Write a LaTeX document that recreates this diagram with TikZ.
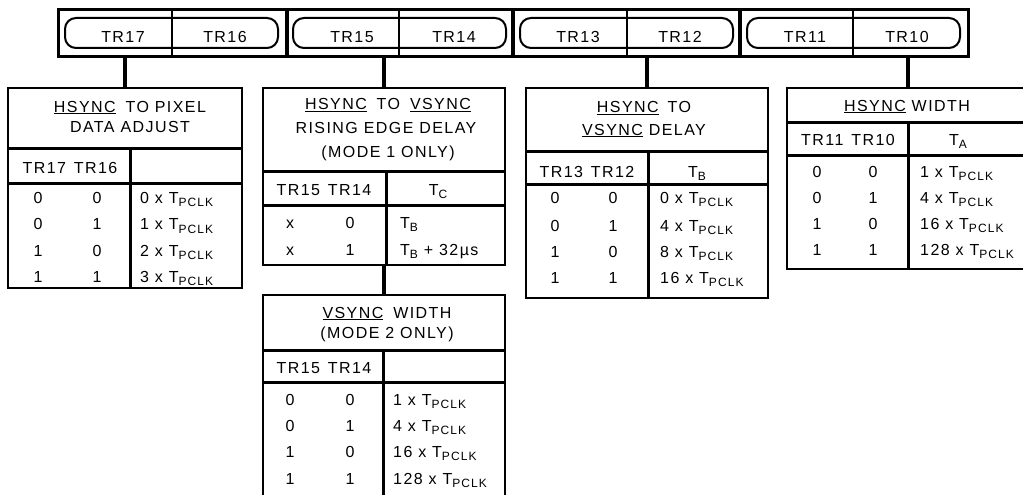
\documentclass[tikz,border=0pt]{standalone}
\usepackage{fontspec}
\setmainfont{Liberation Sans}[LetterSpace=9]
\newcommand{\tsub}[1]{T\raisebox{-3.5pt}{\fontsize{12}{12}\selectfont #1}}
\newcommand{\pclk}{\tsub{PCLK}}
\newcommand{\uln}[1]{\setbox0\hbox{#1}\rlap{\rule[-2pt]{\wd0}{1.3pt}}\box0\relax}
\tikzset{
  frame/.style={draw, line width=2pt, inner sep=0pt},
  rule/.style={line width=3pt},
  thinrule/.style={line width=2.5pt},
  stem/.style={line width=3.5pt},
  txt/.style={font=\fontsize{16}{16}\selectfont, inner sep=0pt, anchor=base},
  lft/.style={txt, anchor=base west},
}
\begin{document}
\begin{tikzpicture}[x=1pt,y=-1pt]
  \useasboundingbox (0,0) rectangle (1023,495);
  \clip (0,0) rectangle (1023,495);
  % register bar
  \node[frame, line width=3pt, minimum width=910pt, minimum height=47pt] (bar) at (513,33.5) {};
  \foreach \x in {287,513,740}{\draw[stem] (\x,10) -- (\x,57);}
  \foreach \x in {172,399,627,853}{\draw[thinrule] (\x,10) -- (\x,57);}
  \foreach \x in {65,293,520,747}{\draw[line width=2pt, rounded corners=11pt] (\x,18) rectangle ++(213,30);}
  \foreach \x/\a/\b in {58/17/16,287/15/14,513/13/12,740/11/10}{
    \node[txt] (tr\a) at ({\x+65},42.5) {TR\a};
    \node[txt] (tr\b) at ({\x+167},42.5) {TR\b};
  }
  % table frames
  \node[frame, minimum width=234pt, minimum height=200pt] (adj) at (125,188) {};
  \node[frame, minimum width=242pt, minimum height=177pt] (rise) at (384,176.5) {};
  \node[frame, minimum width=242pt, minimum height=225pt] (vw) at (384,407.5) {};
  \node[frame, minimum width=242pt, minimum height=210pt] (dly) at (647,193) {};
  \node[frame, minimum width=242pt, minimum height=181pt] (hw) at (908,178.5) {};
  % stems
  \foreach \b in {adj,rise,dly,hw}{\draw[stem] (\b.north) -- (\b.north |- bar.south);}
  \draw[stem] (rise.south) -- (vw.north);
  % HSYNC to pixel data adjust
  \draw[rule] (8,148) -- (242,148);
  \draw[rule] (8,183) -- (242,183);
  \draw[rule] (130,148) -- (130,288);
  \node[txt] (adjt1) at (130,112) {\uln{HSYNC}\hspace{4pt} TO PIXEL};
  \node[txt] (adjt2) at (130,132.5) {DATA ADJUST};
  \node[txt] (adjh) at (70,173) {TR17\hspace{2pt} TR16};
  \foreach \y/\a/\b/\v in {203/0/0/0,229.5/0/1/1,256/1/0/2,282/1/1/3}{
    \node[txt] at (38,\y) {\a};
    \node[txt] at (97,\y) {\b};
    \node[lft] at (140,\y) {\v\ x \pclk};
  }
  % HSYNC to VSYNC rising edge delay
  \draw[rule] (263,171) -- (505,171);
  \draw[rule] (263,205) -- (505,205);
  \draw[rule] (386,171) -- (386,265);
  \node[txt] (riset1) at (388,110) {\uln{HSYNC}\hspace{4pt} TO\hspace{4pt} \uln{VSYNC}};
  \node[txt] (riset2) at (386,133.5) {RISING EDGE DELAY};
  \node[txt] (riset3) at (388,157) {(MODE 1 ONLY)};
  \node[txt] (riseh) at (324,195) {TR15\hspace{2pt} TR14};
  \node[txt] (risetc) at (438,195) {\tsub{C}};
  \node[txt] at (290,228) {x};
  \node[txt] at (350,228) {0};
  \node[lft] at (400,228) {\tsub{B}};
  \node[txt] at (290,255) {x};
  \node[txt] at (350,255) {1};
  \node[lft] at (400,255) {\tsub{B} + 32µs};
  % VSYNC width
  \draw[rule] (263,350) -- (505,350);
  \draw[rule] (263,382) -- (505,382);
  \draw[rule] (383,350) -- (383,520);
  \node[txt] (vwt1) at (387,318) {\uln{VSYNC}\hspace{4pt} WIDTH};
  \node[txt] (vwt2) at (387,338) {(MODE 2 ONLY)};
  \node[txt] (vwh) at (324,373) {TR15\hspace{2pt} TR14};
  \foreach \y/\a/\b/\v in {405/0/0/1,431/0/1/4,457/1/0/16,484/1/1/128}{
    \node[txt] at (290,\y) {\a};
    \node[txt] at (350,\y) {\b};
    \node[lft] at (393,\y) {\v\ x \pclk};
  }
  % HSYNC to VSYNC delay
  \draw[rule] (526,151) -- (768,151);
  \draw[rule] (526,184) -- (768,184);
  \draw[rule] (648,151) -- (648,298);
  \node[txt] (dlyt1) at (644,113) {\uln{HSYNC}\hspace{3pt} TO};
  \node[txt] (dlyt2) at (644,135) {\uln{VSYNC} DELAY};
  \node[txt] (dlyh) at (587,177) {TR13\hspace{2pt} TR12};
  \node[txt] (dlytb) at (697,177) {\tsub{B}};
  \foreach \y/\a/\b/\v in {203/0/0/0,231/0/1/4,257/1/0/8,283/1/1/16}{
    \node[txt] at (555,\y) {\a};
    \node[txt] at (613,\y) {\b};
    \node[lft] at (660,\y) {\v\ x \pclk};
  }
  % HSYNC width
  \draw[rule] (787,122) -- (1029,122);
  \draw[rule] (787,155) -- (1029,155);
  \draw[rule] (908,122) -- (908,269);
  \node[txt] (hwt) at (907,111) {\uln{HSYNC} WIDTH};
  \node[txt] (hwh) at (848,145) {TR11\hspace{2pt} TR10};
  \node[txt] (hwta) at (958,145) {\tsub{A}};
  \foreach \y/\a/\b/\v in {177/0/0/1,203/0/1/4,229/1/0/16,255/1/1/128}{
    \node[txt] at (817,\y) {\a};
    \node[txt] at (873,\y) {\b};
    \node[lft] at (920,\y) {\v\ x \pclk};
  }
\end{tikzpicture}
\end{document}
